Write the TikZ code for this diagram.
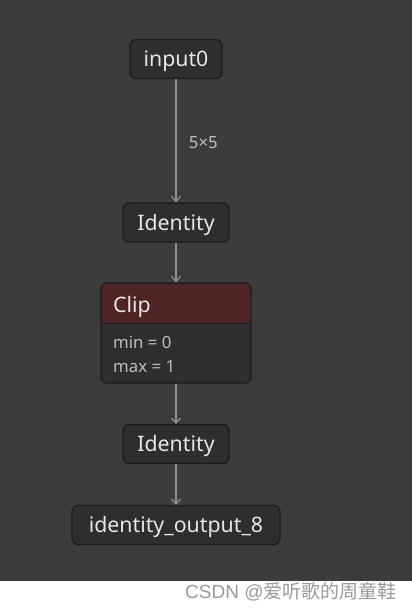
\documentclass[tikz,border=0pt]{standalone}
\usepackage{fontspec}
\setmainfont{Noto Sans}
\newfontfamily\cjk{Noto Sans CJK SC}
\newfontfamily\wmfont{Liberation Sans}
\usetikzlibrary{arrows.meta,calc}
\definecolor{bg}{HTML}{3C3C3C}
\definecolor{nodefill}{HTML}{2E2E2E}
\definecolor{nodeborder}{HTML}{1C1C1C}
\definecolor{txt}{HTML}{E6E6E6}
\definecolor{edgec}{HTML}{8E8E8E}
\definecolor{lbl}{HTML}{BDBDBD}
\definecolor{hdr}{HTML}{4E2424}
\definecolor{wm}{HTML}{9A9A9A}
\tikzset{
  x=1pt, y=-1pt,
  opbox/.style={draw=nodeborder, line width=1.2pt, fill=nodefill, rounded corners=6pt,
    text=txt, font=\fontsize{21.3}{24}\selectfont, minimum height=39pt, inner xsep=11pt,
    text height=16pt, text depth=1pt, anchor=center},
  edge/.style={draw=edgec, line width=1.3pt, -{Straight Barb[length=5pt,width=9pt,line width=1.3pt]}},
}
\begin{document}
\begin{tikzpicture}
\useasboundingbox (0,0) rectangle (412,611);
\fill[bg] (0,0) rectangle (412,581);
\fill[white] (0,581) rectangle (412,611);

\node[opbox, minimum width=92pt] (in) at (176,59) {input0};
\node[opbox, minimum width=106pt] (id1) at (176,222.5) {Identity};
% Clip node
\fill[nodefill, rounded corners=6pt] (101,283) rectangle (251,383);
\fill[hdr, rounded corners=6pt] (101,323) -- (101,283) -- (251,283) -- (251,323) -- cycle;
\draw[nodeborder, line width=1pt] (101,323) -- (251,323);
\node[draw=nodeborder, line width=1.2pt, rounded corners=6pt, minimum width=150pt, minimum height=100pt, inner sep=0pt] (clip) at (176,333) {};
\node[anchor=west, text=txt, font=\fontsize{21.3}{24}\selectfont, inner sep=0pt] (cliplbl) at (113,306.5) {Clip};
\node[anchor=west, text=lbl, font=\fontsize{16.8}{19}\selectfont, inner sep=0pt] (minl) at (113,342) {min = 0};
\node[anchor=west, text=lbl, font=\fontsize{16.8}{19}\selectfont, inner sep=0pt] (maxl) at (113,367) {max = 1};

\node[opbox, minimum width=106pt] (id2) at (176,444) {Identity};
\node[opbox, minimum width=208pt] (out) at (176,525) {identity\_output\_8};

\draw[edge] (in.south) -- (id1.north) node[pos=0.5, right=9pt, yshift=-2pt, text=lbl, font=\fontsize{16.8}{19}\selectfont] (l55) {5×5};
\draw[edge] (id1.south) -- (clip.north);
\draw[edge] (clip.south) -- (id2.north);
\draw[edge] (id2.south) -- (out.north);

\node[anchor=west, text=wm, font=\fontsize{19}{22}\selectfont, inner sep=0pt] (wmk) at (185,592) {\wmfont CSDN @{\cjk 爱听歌的周童鞋}};
\end{tikzpicture}
\end{document}
